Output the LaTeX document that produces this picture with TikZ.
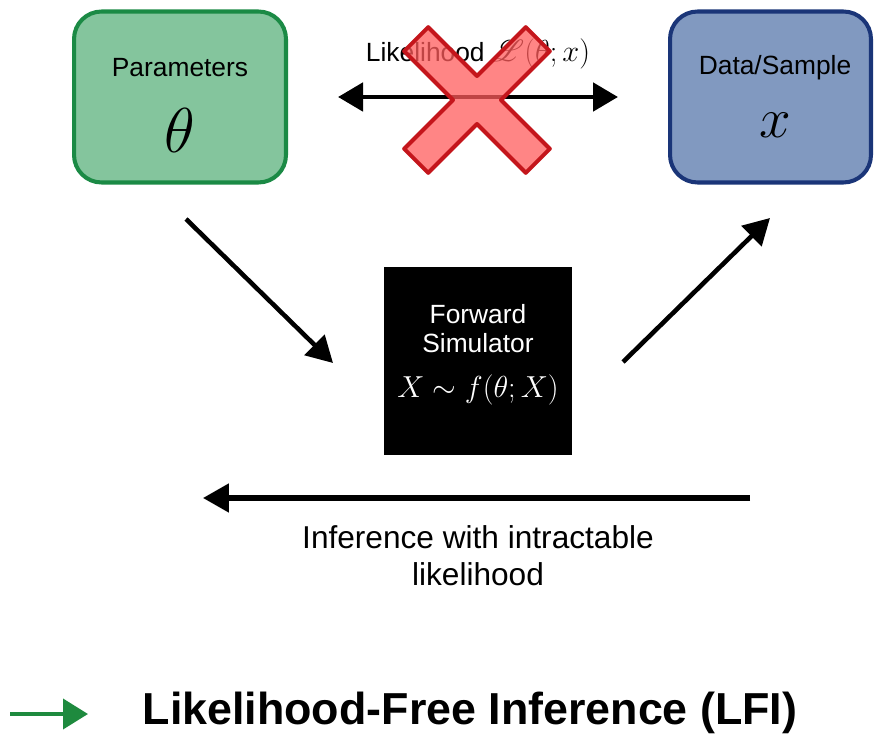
\documentclass[tikz,border=0pt]{standalone}
\usepackage{fontspec}
\setmainfont{Liberation Sans}
\usepackage{mathrsfs}
\usetikzlibrary{arrows.meta}
\definecolor{paramfill}{HTML}{84C59D}
\definecolor{paramline}{HTML}{1B8A45}
\definecolor{datafill}{HTML}{8199C0}
\definecolor{dataline}{HTML}{1A3578}
\definecolor{crossfill}{HTML}{FF5C5C}
\definecolor{crossline}{HTML}{C4161C}
\definecolor{lfigreen}{HTML}{1E8A3E}
\tikzset{
	varbox/.style={draw, line width=2.3pt, rounded corners=0.55cm, minimum height=3.42cm},
	flow/.style={line width=2.6pt, -{Triangle[length=0.52cm,width=0.56cm]}},
	txt/.style={font=\fontsize{15}{18}\selectfont},
	bigsym/.style={font=\fontsize{24.88}{26}\selectfont},
}

\begin{document}
\begin{tikzpicture}[x=0.02cm, y=-0.02cm]
		%%%%% START %%%%%
		\useasboundingbox (0,0) rectangle (875,736);
		
		% boxes
		\node[varbox, fill=paramfill, draw=paramline, minimum width=4.24cm] (params) at (180,97) {};
		\node[varbox, fill=datafill, draw=dataline, minimum width=4.02cm] (data) at (770.5,97) {};
		\node[fill=black, minimum width=3.76cm, minimum height=3.76cm, inner sep=0pt] (sim) at (478,361) {};
		
		\node[txt] (params-name) at (180,68) {Parameters};
		\node[bigsym] (params-sym) at (180,130) {\scalebox{1.45}{$\theta$}};
		\node[txt] (data-name) at (775,68) {Data/Sample};
		\node[bigsym] (data-sym) at (775,125) {\scalebox{1.3}{$x$}};
		
		\node[txt, text=white] (sim-name1) at (478,314) {Forward};
		\node[txt, text=white] (sim-name2) at (478,343) {Simulator};
		\node[text=white, font=\fontsize{18}{18}\selectfont] (sim-eq) at (478,390) {$X\sim f(\theta;X)$};
		
		% likelihood link, crossed out
		\node[txt] (lik) at (478,54) {Likelihood {\fontsize{17}{17}\selectfont$\mathscr{L}(\theta;x)$}};
		\coordinate (lik-l) at (338,97);
		\coordinate (lik-r) at (618,97);
		\draw[line width=2.8pt, {Triangle[length=0.5cm,width=0.56cm]}-{Triangle[length=0.5cm,width=0.56cm]}] (lik-l) -- (lik-r);
		
		\begin{scope}[shift={(477,100)}, rotate=45]
			\filldraw[fill=crossfill, fill opacity=0.75, draw=crossline, line width=2.3pt, line join=round]
				(17,17) -- (86,17) -- (86,-17) -- (17,-17) -- (17,-86) -- (-17,-86) -- (-17,-17)
				-- (-86,-17) -- (-86,17) -- (-17,17) -- (-17,86) -- (17,86) -- cycle;
		\end{scope}
		
		% simulator arrows
		\coordinate (in-a) at (186,219);
		\coordinate (in-b) at (333,363);
		\coordinate (out-a) at (623,362);
		\coordinate (out-b) at (770,218);
		\draw[flow] (in-a) -- (in-b);
		\draw[flow] (out-a) -- (out-b);
		
		% inference
		\coordinate (inf-r) at (750,498);
		\coordinate (inf-l) at (203,498);
		\draw[flow, line width=2.9pt] (inf-r) -- (inf-l);
		\node[font=\fontsize{18}{20}\selectfont] (inf1) at (478,537) {Inference with intractable};
		\node[font=\fontsize{18}{20}\selectfont] (inf2) at (478,574) {likelihood};
		
		% LFI
		\coordinate (lfi-a) at (10,714);
		\coordinate (lfi-b) at (88,714);
		\draw[line width=2.2pt, lfigreen, -{Triangle[length=0.5cm,width=0.6cm]}] (lfi-a) -- (lfi-b);
		\node[font=\fontsize{25.5}{30}\selectfont\bfseries] (lfi) at (470,713) {Likelihood-Free Inference (LFI)};
		
		%%%%% END %%%%%
	\end{tikzpicture}
\end{document}
